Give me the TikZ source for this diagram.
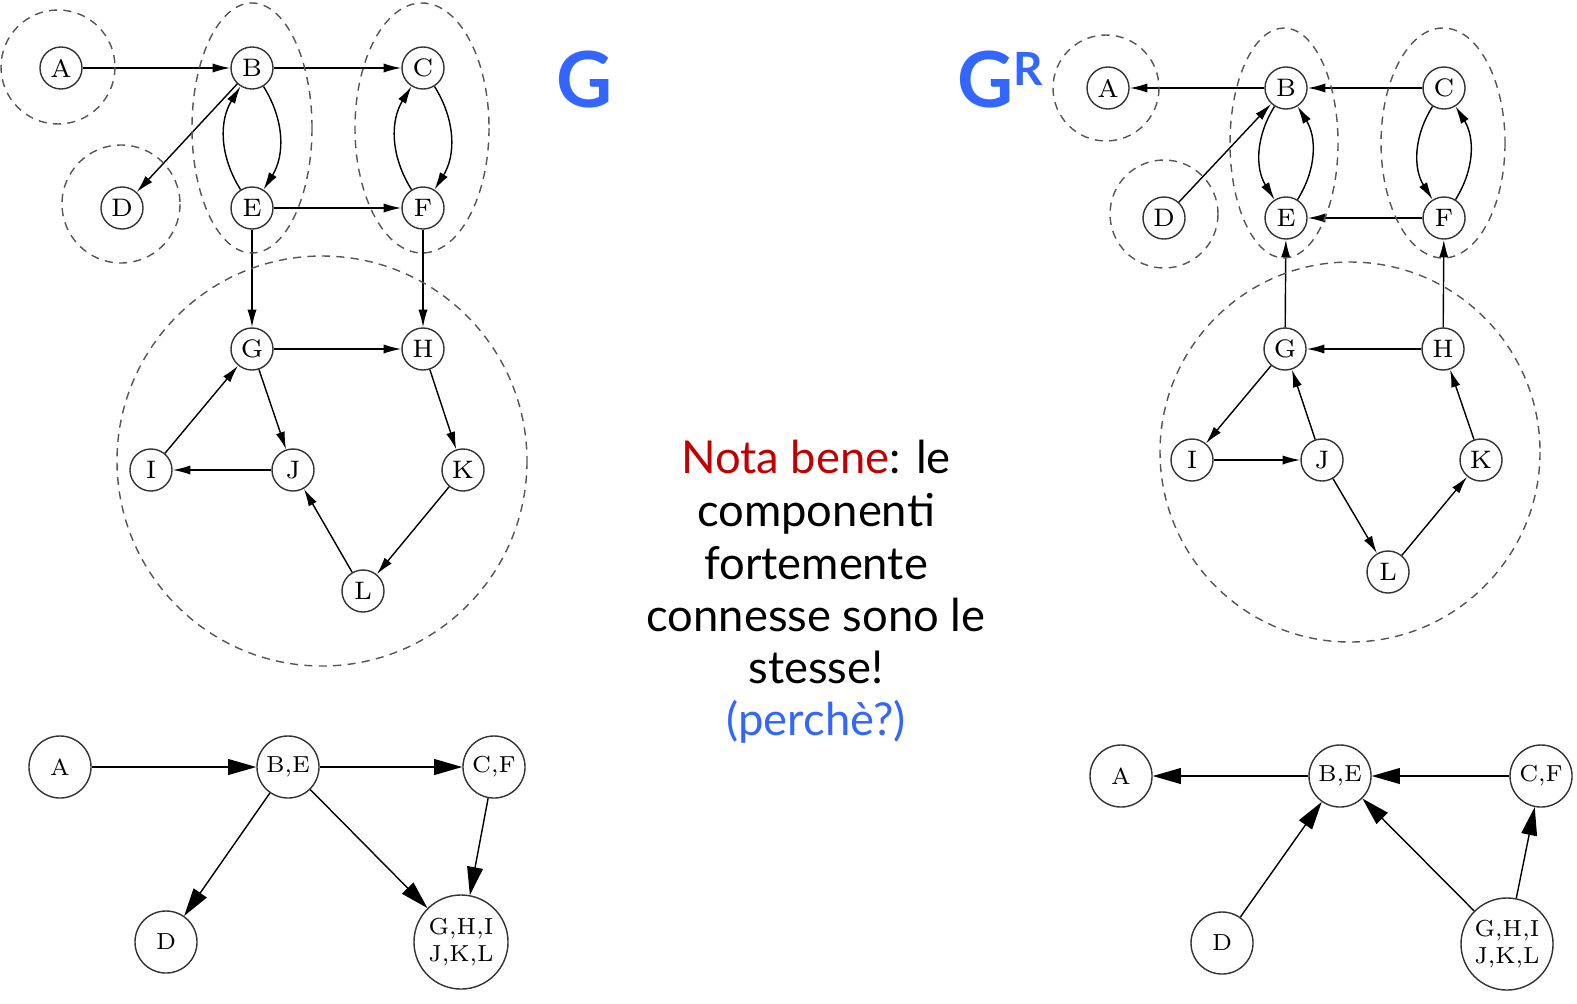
\documentclass[tikz,border=0pt]{standalone}
\usepackage{fontspec}
\newfontfamily\notefont{Lato}
\usetikzlibrary{arrows.meta, positioning}
\definecolor{slideblue}{RGB}{51,102,255}
\definecolor{slidered}{RGB}{192,0,0}
\definecolor{sccgray}{RGB}{85,85,85}

\tikzset{
  vtx/.style={circle, draw=black!80, thin, inner sep=0pt, minimum size=0.42cm,
    font=\fontsize{7.2pt}{8pt}\selectfont},
  sccnode/.style={circle, draw=black!80, thin, inner sep=0pt, minimum size=0.62cm,
    align=center, font=\fontsize{6.6pt}{7.9pt}\selectfont},
  link/.style={-{Latex[length=5pt,width=2.6pt]}, thin},
  biglink/.style={-{Triangle[length=8pt,width=4.5pt]}, thin},
  scc/.style={sccgray, thin, dash pattern=on 2.3pt off 1.8pt},
  notetext/.style={anchor=base, font=\notefont\fontsize{12.9pt}{15pt}\selectfont},
}

\begin{document}
\begin{tikzpicture}[x=0.01cm, y=-0.01cm]
  \useasboundingbox (0,0) rectangle (1577,1003);

  % Graph G
  \node[vtx] (a) at (61,68) {A};
  \node[vtx] (b) at (252,68) {B};
  \node[vtx] (c) at (423,68) {C};
  \node[vtx] (d) at (122,208) {D};
  \node[vtx] (e) at (252,208) {E};
  \node[vtx] (f) at (423,208) {F};
  \node[vtx] (g) at (252,349) {G};
  \node[vtx] (h) at (423,349) {H};
  \node[vtx] (i) at (151,470) {I};
  \node[vtx] (j) at (293,470) {J};
  \node[vtx] (k) at (463,470) {K};
  \node[vtx] (l) at (363,591) {L};

  \foreach \s/\t in {a/b, b/c, b/d, e/f, e/g, f/h, g/h, g/j, i/g, j/i, h/k, k/l, l/j}
    \draw[link] (\s) -- (\t);
  \draw[link] (b) to[bend left=32] (e);
  \draw[link] (e) to[bend left=32] (b);
  \draw[link] (c) to[bend left=32] (f);
  \draw[link] (f) to[bend left=32] (c);

  % Strongly connected components of G
  \draw[scc] (58,67) circle (57);
  \draw[scc] (121,204) circle (59);
  \draw[scc] (252,128) ellipse (60 and 125);
  \draw[scc] (422,128) ellipse (67 and 125);
  \draw[scc] (322,461) circle (205);

  % Graph G^R
  \node[vtx] (ra) at (1108,88) {A};
  \node[vtx] (rb) at (1286,88) {B};
  \node[vtx] (rc) at (1444,88) {C};
  \node[vtx] (rd) at (1164,218) {D};
  \node[vtx] (re) at (1286,218) {E};
  \node[vtx] (rf) at (1444,218) {F};
  \node[vtx] (rg) at (1285,349) {G};
  \node[vtx] (rh) at (1443,349) {H};
  \node[vtx] (ri) at (1192,460) {I};
  \node[vtx] (rj) at (1322,460) {J};
  \node[vtx] (rk) at (1481,460) {K};
  \node[vtx] (rl) at (1388,572) {L};

  \foreach \s/\t in {rb/ra, rc/rb, rd/rb, rf/re, rg/re, rh/rf, rh/rg, rj/rg, rg/ri, ri/rj, rk/rh, rj/rl, rl/rk}
    \draw[link] (\s) -- (\t);
  \draw[link] (rb) to[bend right=32] (re);
  \draw[link] (re) to[bend right=32] (rb);
  \draw[link] (rc) to[bend right=32] (rf);
  \draw[link] (rf) to[bend right=32] (rc);

  % Strongly connected components of G^R
  \draw[scc] (1106,88) circle (53);
  \draw[scc] (1164,214) circle (54);
  \draw[scc] (1284,143) ellipse (54 and 115);
  \draw[scc] (1443,143) ellipse (62 and 115);
  \draw[scc] (1350,452) circle (190);

  % Component graph of G
  \node[sccnode] (ca) at (60,767) {A};
  \node[sccnode] (cbe) at (288,767) {B,E};
  \node[sccnode] (ccf) at (494,767) {C,F};
  \node[sccnode] (cd) at (166,942) {D};
  \node[sccnode, minimum size=0.94cm] (cg) at (461,942) {G,H,I\\J,K,L};
  \foreach \s/\t in {ca/cbe, cbe/ccf, cbe/cd, cbe/cg, ccf/cg}
    \draw[biglink] (\s) -- (\t);

  % Component graph of G^R
  \node[sccnode] (rca) at (1121,776) {A};
  \node[sccnode] (rcbe) at (1340,776) {B,E};
  \node[sccnode] (rccf) at (1541,776) {C,F};
  \node[sccnode] (rcd) at (1222,943) {D};
  \node[sccnode, minimum size=0.92cm] (rcg) at (1507,944) {G,H,I\\J,K,L};
  \foreach \s/\t in {rcbe/rca, rccf/rcbe, rcd/rcbe, rcg/rcbe, rcg/rccf}
    \draw[biglink] (\s) -- (\t);

  % Titles
  \node[font=\notefont\bfseries\fontsize{22pt}{22pt}\selectfont, text=slideblue]
    (gtitle) at (585,80) {G};
  \node[font=\notefont\bfseries\fontsize{22pt}{22pt}\selectfont, text=slideblue]
    (grtitle) at (1000,80) {G\raisebox{6.5pt}{\fontsize{13pt}{13pt}\selectfont R}};

  % Note
  \node[notetext] (note1) at (816,473) {\textcolor{slidered}{Nota bene}: le};
  \node[notetext] (note2) at (816,526) {componenti};
  \node[notetext] (note3) at (816,579) {fortemente};
  \node[notetext] (note4) at (816,631) {connesse sono le};
  \node[notetext] (note5) at (816,683) {stesse!};
  \node[notetext, text=slideblue] (note6) at (816,735) {(perchè?)};
\end{tikzpicture}
\end{document}
